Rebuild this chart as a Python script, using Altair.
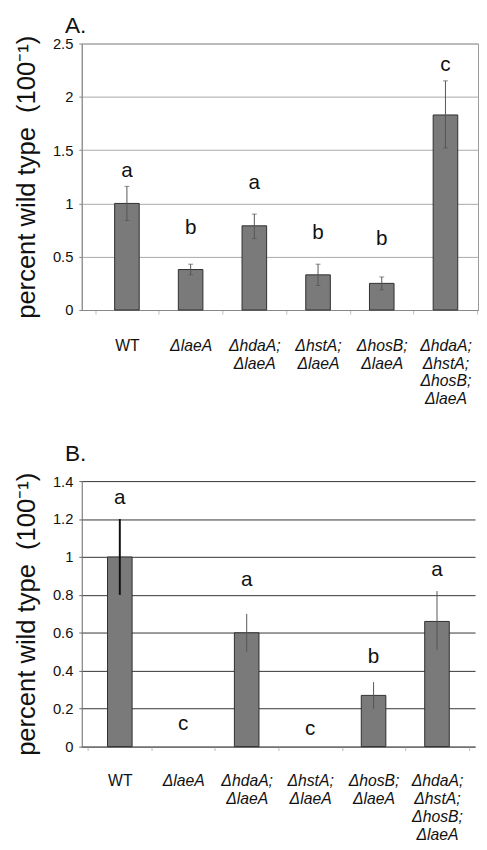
import altair as alt
import pandas as pd

FONT = "Liberation Sans"

strains = ["WT", "ΔlaeA", "ΔhdaA; ΔlaeA", "ΔhstA; ΔlaeA", "ΔhosB; ΔlaeA",
           "ΔhdaA; ΔhstA; ΔhosB; ΔlaeA"]

# Panel A
a_mean = [1.00, 0.38, 0.79, 0.33, 0.25, 1.83]
a_low = [0.84, 0.33, 0.67, 0.23, 0.19, 1.52]
a_high = [1.16, 0.43, 0.90, 0.43, 0.31, 2.15]
a_letters = ["a", "b", "a", "b", "b", "c"]
a_letter_pos = [1.30, 0.77, 1.19, 0.72, 0.67, 2.30]
a_ticks = [0, 0.5, 1, 1.5, 2, 2.5]

# Panel B
b_mean = [1.00, None, 0.60, None, 0.27, 0.66]
b_low = [0.80, None, 0.50, None, 0.20, 0.51]
b_high = [1.20, None, 0.70, None, 0.34, 0.82]
b_letters = ["a", "c", "a", "c", "b", "a"]
b_letter_pos = [1.31, 0.12, 0.88, 0.09, 0.47, 0.93]
b_ticks = [0, 0.2, 0.4, 0.6, 0.8, 1.0, 1.2, 1.4]

YTITLE = "percent wild type\u00a0 (100⁻¹)"


def panel(label, mean, low, high, letters, lpos, ticks, ymax, width, height,
          grid_color, domain_color, label_pad, view_stroke, thick_wt, caps,
          pad_outer, band_align, title_offset):
    df = pd.DataFrame({"strain": strains, "mean": mean, "low": low, "high": high,
                       "letter": letters, "lpos": lpos})
    xscale = alt.Scale(domain=strains, paddingInner=0, paddingOuter=pad_outer,
                       align=band_align)
    yscale = alt.Scale(domain=[0, ymax], nice=False)
    xaxis = alt.Axis(
        title=None, labelAngle=0,
        labelExpr="datum.value ? split(datum.value, ' ') : ''",
        labelFontStyle=alt.condition("datum.value == 'WT'", alt.value("normal"), alt.value("italic")),
        labelFont=FONT, labelFontSize=16, labelLineHeight=18, labelBaseline="top",
        labelColor="#111", labelPadding=label_pad, labelLimit=0,
        tickBand="extent", tickSize=4, tickColor="#bbb",
        domainColor=domain_color, grid=False,
    )
    yaxis = alt.Axis(
        title=YTITLE, titleFont=FONT, titleFontSize=26, titleFontWeight="normal",
        titleColor="#111", titlePadding=13, values=ticks, format="~g",
        labelFont=FONT, labelFontSize=15, labelColor="#111", labelPadding=6,
        tickSize=3, tickColor=domain_color, domainColor=domain_color,
        grid=True, gridColor=grid_color, gridWidth=1,
    )
    X = alt.X("strain:N", sort=strains, scale=xscale, axis=xaxis)

    def Y(f):
        return alt.Y(f + ":Q", scale=yscale, axis=yaxis)

    base = alt.Chart(df)
    bars = base.mark_bar(size=25, fill="#7a7a7a", stroke="#2e2e2e", strokeWidth=1).encode(
        x=X, y=Y("mean"),
    )
    if thick_wt:
        sw = alt.condition("datum.strain == 'WT'", alt.value(2), alt.value(1))
        col = alt.condition("datum.strain == 'WT'", alt.value("#111"), alt.value("#555"))
    else:
        sw = alt.value(1)
        col = alt.value("#555")
    errs = base.mark_rule().encode(
        x=X, y=Y("low"), y2="high:Q", strokeWidth=sw, color=col,
    )
    layers = [bars, errs]
    if caps:
        for f in ["low", "high"]:
            layers.append(base.mark_tick(size=5, thickness=1, color="#555").encode(
                x=X, y=Y(f)))
    txt = base.mark_text(font=FONT, fontSize=21, baseline="middle", color="#111").encode(
        x=X, y=Y("lpos"), text="letter:N",
    )
    layers.append(txt)
    return alt.layer(*layers).properties(
        width=width, height=height,
        title=alt.TitleParams(label, anchor="start", frame="group", font=FONT,
                              fontSize=23, fontWeight="normal", color="#111",
                              dx=-17, offset=title_offset),
        view=view_stroke,
    )


pa = panel("A.", a_mean, a_low, a_high, a_letters, a_letter_pos, a_ticks, 2.5,
           403, 271, "#a8a8a8", "#888", 24,
           alt.ViewBackground(stroke="#999"), False, True, 0.11, 0.95, -3)
pb = panel("B.", b_mean, b_low, b_high, b_letters, b_letter_pos, b_ticks, 1.4,
           400, 270, "#333", "#666", 23,
           alt.ViewBackground(stroke="transparent"), True, False, 0.1, 0.5, 6)

chart = alt.vconcat(pa, pb, spacing=36).properties(
    padding={"left": 5, "top": 0, "right": 0, "bottom": 0},
    background="white",
).configure_view(stroke="transparent")

chart.save("out.html", embed_options={"renderer": "svg", "actions": False})
